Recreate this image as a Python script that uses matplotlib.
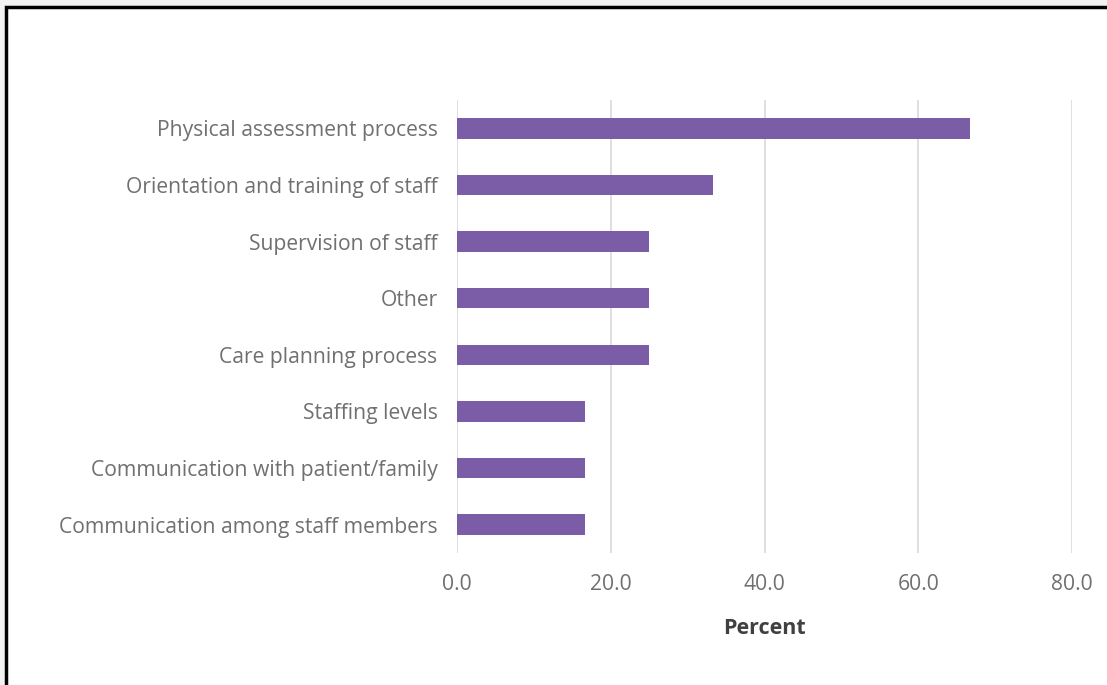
import matplotlib.pyplot as plt
from matplotlib.patches import Rectangle

# Categories listed bottom to top, as drawn on the y axis
categories = [
    'Communication among staff members',
    'Communication with patient/family',
    'Staffing levels',
    'Care planning process',
    'Other',
    'Supervision of staff',
    'Orientation and training of staff',
    'Physical assessment process',
]
percent = [16.7, 16.7, 16.7, 25.0, 25.0, 25.0, 33.3, 66.7]
x_ticks = [0, 20, 40, 60, 80]

W, H = 1107, 685
fig = plt.figure(figsize=(W / 100, H / 100), dpi=100)
fig.patch.set_facecolor('#f2f2f2')

# white panel with black frame (right and bottom edges run off the canvas)
fig.patches.append(Rectangle((6 / W, -0.5), 2.0, (H - 7) / H + 0.5,
                             transform=fig.transFigure, facecolor='white',
                             edgecolor='black', linewidth=2.5, zorder=-5))

ax = fig.add_axes([457 / W, 1 - 553 / H, (1072 - 457) / W, (553 - 100) / H])
ax.set_facecolor('none')
ax.set_zorder(2)

ax.barh(range(len(categories)), percent, height=0.36, color='#7b5ca6', zorder=3)

ax.set_xlim(0, 80)
ax.set_ylim(-0.5, len(categories) - 0.5)
ax.set_xticks(x_ticks)
ax.set_xticklabels([f'{t:.1f}' for t in x_ticks])
ax.set_yticks(range(len(categories)))
ax.set_yticklabels(categories)

ax.grid(axis='x', color='#d9d9d9', linewidth=1.2, zorder=0)
for s in ax.spines.values():
    s.set_visible(False)
ax.tick_params(length=0, labelsize=15.2, labelcolor='#707070')
ax.tick_params(axis='x', pad=15)
ax.tick_params(axis='y', pad=14)
for lbl in ax.get_xticklabels() + ax.get_yticklabels():
    lbl.set_family('Open Sans')

ax.set_xlabel('Percent', fontsize=15.5, fontweight='bold', color='#404040',
              family='Open Sans', labelpad=17)

fig.savefig('out.png', dpi=100, facecolor=fig.get_facecolor())
